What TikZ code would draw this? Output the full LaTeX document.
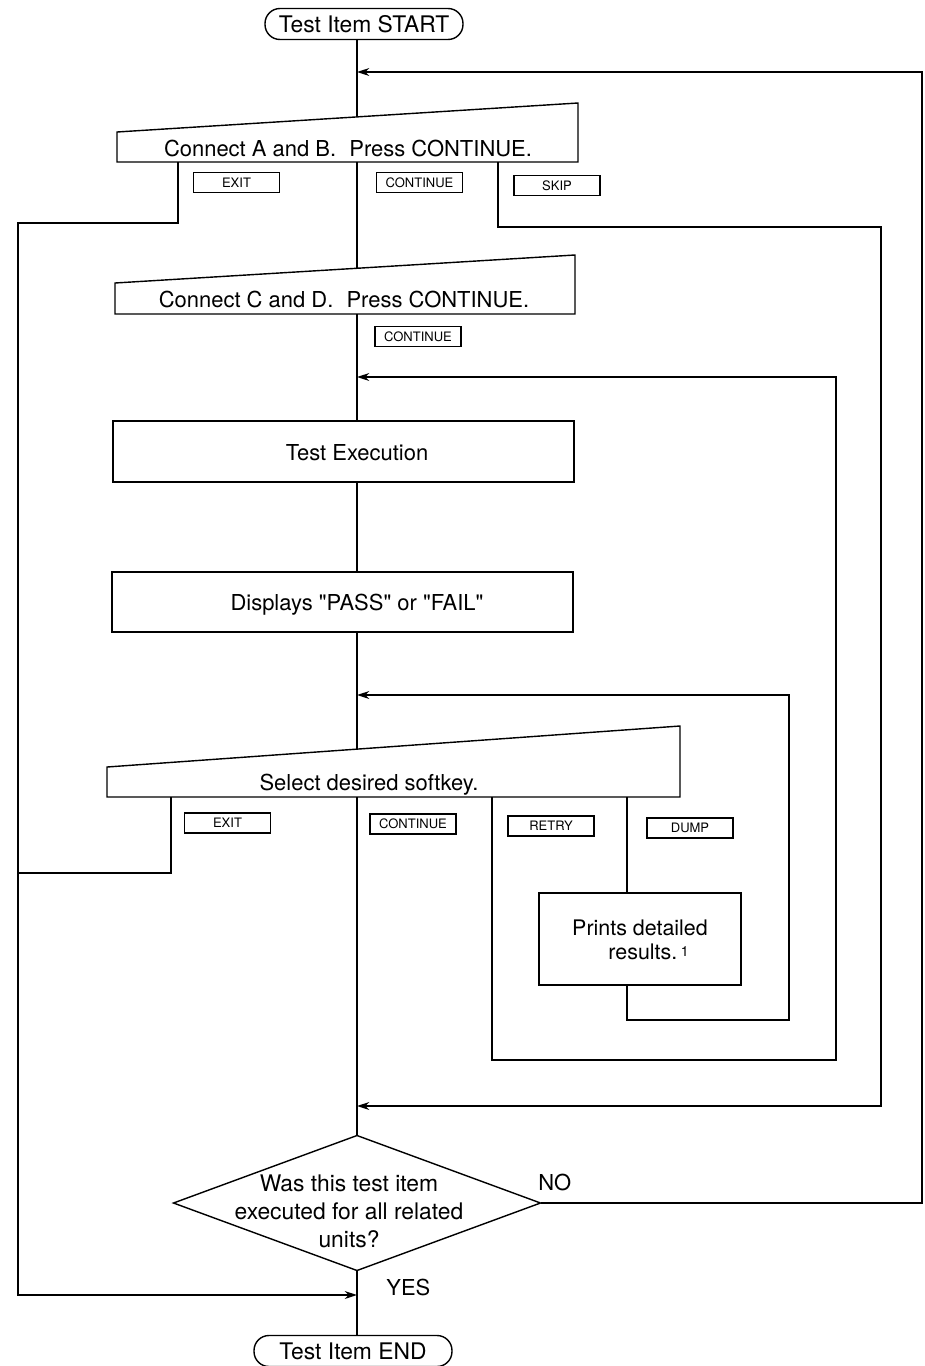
\documentclass[tikz,border=0pt]{standalone}
\usepackage{fontspec}
\setmainfont{TeX Gyre Heros}
\usetikzlibrary{arrows.meta,calc}
\begin{document}
\begin{tikzpicture}[x=0.02cm,y=-0.02cm,
  ln/.style={line width=0.8pt,line join=miter},
  arr/.style={ln,-{Stealth[length=7pt,width=4.5pt,inset=2.2pt]}},
  term/.style={draw,line width=0.8pt,rounded corners=8.5pt,minimum width=3.96cm,minimum height=0.62cm,inner sep=0pt,font=\fontsize{13}{15}\selectfont},
  softkey/.style={draw,line width=0.6pt,minimum width=1.72cm,minimum height=0.4cm,inner sep=0pt,font=\fontsize{7.4}{8}\selectfont},
  boxnode/.style={draw,line width=0.8pt,inner sep=0pt},
  txt/.style={inner sep=0pt,font=\fontsize{12.5}{15}\selectfont},
]
\useasboundingbox (0,0) rectangle (924,1366);
\def\sx{357}
\def\q{\XeTeXglyph\numexpr\XeTeXcharglyph"22\relax}

% terminals
\node[term] (start) at (364,24) {Test Item START};
\node[term] (end) at (353,1351) {Test Item END};

% manual input 1
\draw[ln] (117,162) coordinate (s1bl) -- (117,132) coordinate (s1tl) -- (578,103) coordinate (s1tr) -- (578,162) coordinate (s1br) -- cycle;
\node[txt,anchor=base] (t1) at (348,156) {Connect A and B.\hspace{0.6em}Press CONTINUE.};
\coordinate (s1in) at (\sx,116.9);
\coordinate (s1out) at (\sx,162);

% manual input 2
\draw[ln] (115,314) coordinate (s2bl) -- (115,283) coordinate (s2tl) -- (575,255) coordinate (s2tr) -- (575,314) coordinate (s2br) -- cycle;
\node[txt,anchor=base] (t2) at (344,307) {Connect C and D.\hspace{0.6em}Press CONTINUE.};
\coordinate (s2in) at (\sx,268.3);
\coordinate (s2out) at (\sx,314);

% process boxes
\node[boxnode,minimum width=9.22cm,minimum height=1.22cm] (exec) at (343.5,451.5) {};
\node[txt,anchor=base] (t3) at (\sx,460) {Test Execution};
\node[boxnode,minimum width=9.22cm,minimum height=1.2cm] (disp) at (342.5,602) {};
\node[txt,anchor=base] (t4) at (\sx,610) {Displays \q PASS\q{} or \q FAIL\q};

% manual input 3
\draw[ln] (107,797) coordinate (s3bl) -- (107,767) coordinate (s3tl) -- (680,726) coordinate (s3tr) -- (680,797) coordinate (s3br) -- cycle;
\node[txt,anchor=base] (t5) at (369,790) {Select desired softkey.};
\coordinate (s3in) at (\sx,749.1);
\coordinate (s3out) at (\sx,797);

% print box
\node[boxnode,minimum width=4.04cm,minimum height=1.84cm] (prn) at (640,939) {};
\node[inner sep=0pt,align=center,font=\fontsize{12.2}{14}\selectfont] (t6) at (640,940) {Prints detailed\\ \hspace{0.8em}results.\,{\fontsize{8}{8}\selectfont\raisebox{0.5ex}{1}}};

% decision
\draw[ln] (\sx,1135.5) coordinate (dT) -- (540.5,1203) coordinate (dR) -- (\sx,1270.5) coordinate (dB) -- (173.5,1203) coordinate (dL) -- cycle;
\node[inner sep=0pt,align=center,font=\fontsize{13}{16}\selectfont] (q) at (349,1211) {Was this test item\\executed for all related\\units?};
\node[txt,anchor=base west] (no) at (538,1190) {NO};
\node[txt,anchor=base west] (yes) at (386,1295) {YES};

% softkeys
\node[softkey] (k1) at (236.5,182.5) {EXIT};
\node[softkey] (k2) at (419.5,182.5) {CONTINUE};
\node[softkey] (k3) at (557,185.5) {SKIP};
\node[softkey] (k4) at (418,336.5) {CONTINUE};
\node[softkey] (k5) at (227.5,823) {EXIT};
\node[softkey] (k6) at (413,824) {CONTINUE};
\node[softkey] (k7) at (551,826) {RETRY};
\node[softkey] (k8) at (690,828) {DUMP};

% junction coordinates on the spine
\coordinate (j72) at (\sx,72);
\coordinate (j377) at (\sx,377);
\coordinate (j695) at (\sx,695);
\coordinate (j1106) at (\sx,1106);
\coordinate (j1295) at (\sx,1295);

% main spine
\draw[ln] (start.south -| \sx,0) -- (s1in);
\draw[ln] (s1out) -- (s2in);
\draw[ln] (s2out) -- (exec.north -| \sx,0);
\draw[ln] (exec.south -| \sx,0) -- (disp.north -| \sx,0);
\draw[ln] (disp.south -| \sx,0) -- (s3in);
\draw[ln] (s3out) -- (dT);
\draw[ln] (dB) -- (end.north -| \sx,0);

% EXIT from first prompt
\draw[arr] (178,162) coordinate (e1) -- (178,223) -- (18,223) -- (18,1295) -- (j1295);
% EXIT from softkey prompt
\draw[ln] (171,797) coordinate (e3) -- (171,873) -- (18,873);
% SKIP
\draw[arr] (498,162) coordinate (sk) -- (498,227) -- (881,227) -- (881,1106) -- (j1106);
% RETRY
\draw[arr] (492,797) coordinate (rt) -- (492,1060) -- (836,1060) -- (836,377) -- (j377);
% DUMP
\draw[ln] (627,797) coordinate (dp) -- (prn.north -| 627,0);
\draw[arr] (prn.south -| 627,0) -- (627,1020) -- (789,1020) -- (789,695) -- (j695);
% NO
\draw[arr] (dR) -- (922,1203) -- (922,72) -- (j72);
\end{tikzpicture}
\end{document}
